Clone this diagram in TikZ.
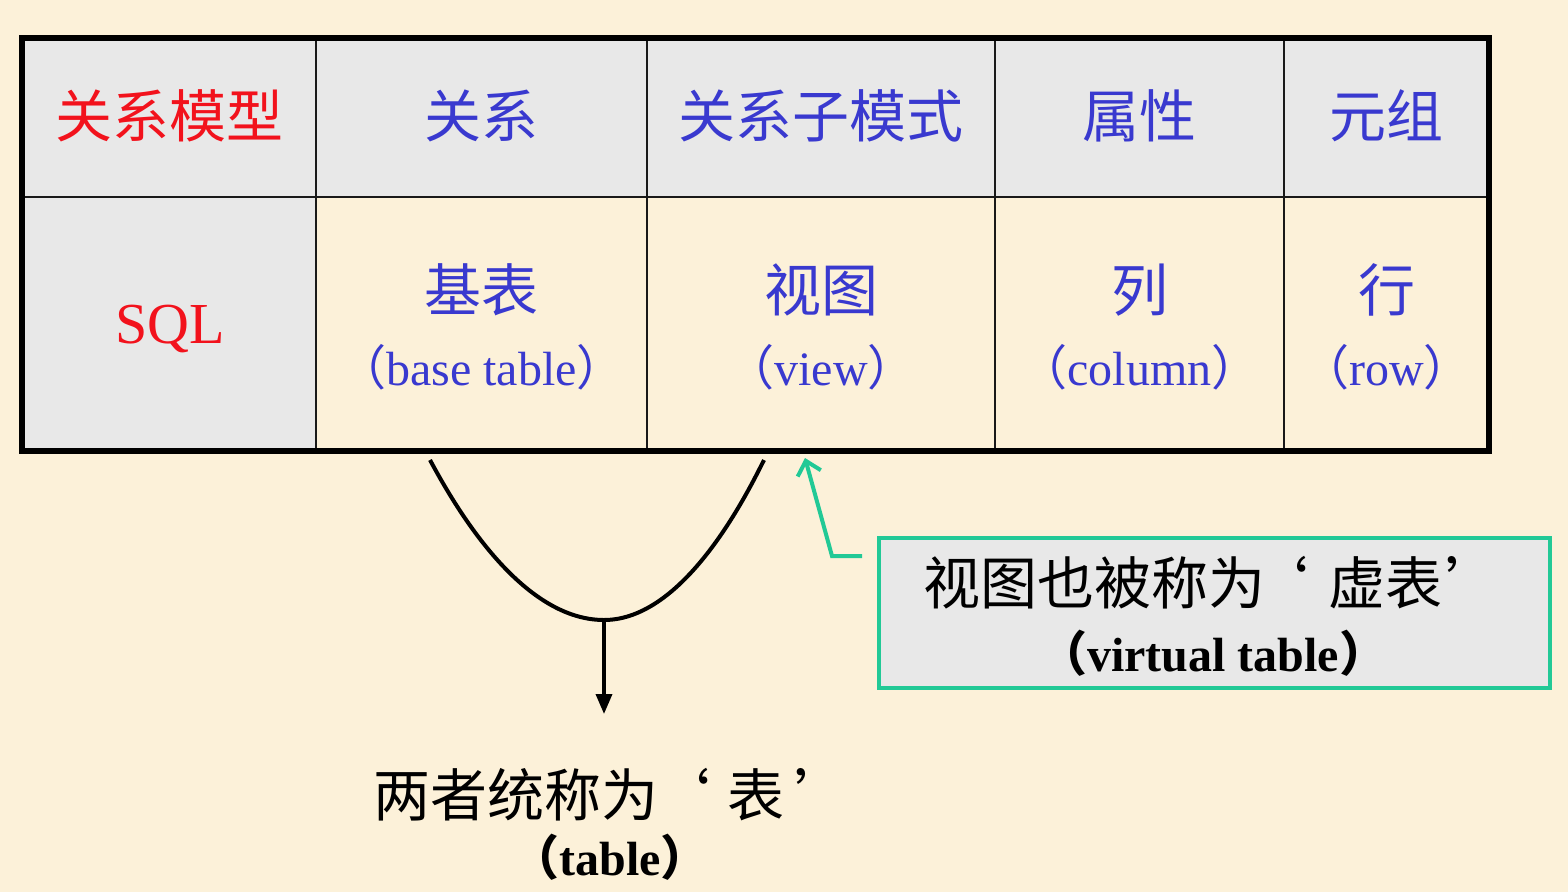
\documentclass[tikz,border=0pt]{standalone}
\usepackage{fontspec}
\setmainfont{Liberation Serif}
\newfontfamily\cjk{Noto Sans CJK SC}
\usetikzlibrary{arrows.meta}
\definecolor{bg}{HTML}{FCF1D9}
\definecolor{cellgrey}{HTML}{E8E8E8}
\definecolor{rd}{HTML}{F2121C}
\definecolor{bl}{HTML}{3939CF}
\definecolor{gr}{HTML}{22C996}
\begin{document}
\begin{tikzpicture}[x=1pt,y=-1pt,
  cn/.style={font=\cjk\fontsize{57}{60}\selectfont, inner sep=0pt},
  en/.style={font=\fontsize{48}{52}\selectfont, inner sep=0pt},
  enb/.style={font=\fontsize{48}{52}\selectfont\bfseries, inner sep=0pt},
  thinline/.style={line width=2.5pt, draw=black!90},
  conn/.style={line width=4pt, draw=black},
  gconn/.style={line width=4pt, draw=gr}]
\useasboundingbox (0,0) rectangle (1568,892);
\fill[bg] (0,0) rectangle (1568,892);
% table fills
\fill[cellgrey] (22,38) rectangle (1489,197);
\fill[cellgrey] (22,197) rectangle (316,451);
\draw[thinline] (22,197) -- (1489,197);
\foreach \x in {316,647,995,1284} \draw[thinline] (\x,38) -- (\x,451);
\draw[line width=5.5pt] (22,38) rectangle (1489,451);
% header row
\node[cn, text=rd] (h1) at (169,116) {关系模型};
\node[cn, text=bl] (h2) at (481.5,116) {关系};
\node[cn, text=bl] (h3) at (821,116) {关系子模式};
\node[cn, text=bl] (h4) at (1139.5,116) {属性};
\node[cn, text=bl] (h5) at (1386.5,116) {元组};
% second row
\node[font=\fontsize{58}{62}\selectfont, inner sep=0pt, text=rd] (sql) at (170,329) {SQL};
\node[cn, text=bl] (c2) at (481.5,290) {基表};
\node[en, text=bl] (e2) at (481.5,367) {{\cjk （}base table{\cjk ）}};
\node[cn, text=bl] (c3) at (821,290) {视图};
\node[en, text=bl] (e3) at (821,367) {{\cjk （}view{\cjk ）}};
\node[cn, text=bl] (c4) at (1139.5,290) {列};
\node[en, text=bl] (e4) at (1139.5,367) {{\cjk （}column{\cjk ）}};
\node[cn, text=bl] (c5) at (1386.5,290) {行};
\node[en, text=bl] (e5) at (1386.5,367) {{\cjk （}row{\cjk ）}};
% virtual table box
\node[draw=gr, line width=3.5pt, fill=cellgrey, minimum width=671pt, minimum height=150pt, inner sep=0pt] (vbox) at (1214.5,613) {};
\node[cn, anchor=west] (v1) at (923,583) {视图也被称为\hspace{-14pt}‘\hspace{20pt}虚表\hspace{3pt}’};
\node[enb] (v2) at (1213,653) {{\cjk （}virtual table{\cjk ）}};
% bottom text
\node[cn, anchor=west] (b1) at (373,795) {两者统称为 \hspace{-18pt}‘\hspace{18pt}表\hspace{10pt}’};
\node[enb] (b2) at (610,857) {{\cjk （}table{\cjk ）}};
% connectors
\coordinate (cl) at (430,460);
\coordinate (cb) at (604,620);
\coordinate (cr) at (764,460);
\coordinate (ae) at (604,714);
\draw[conn] (cl) parabola[bend at end] (cb) parabola (cr);
\draw[conn, line width=3.5pt, -{Triangle[width=16pt,length=20pt]}] (cb) -- (ae);
\coordinate (g0) at (862,556);
\coordinate (g1) at (832,556);
\coordinate (gt) at (805,458);
\draw[gconn, -{Straight Barb[length=13pt,width=24pt]}] (g0) -- (g1) -- (gt);
\end{tikzpicture}
\end{document}
